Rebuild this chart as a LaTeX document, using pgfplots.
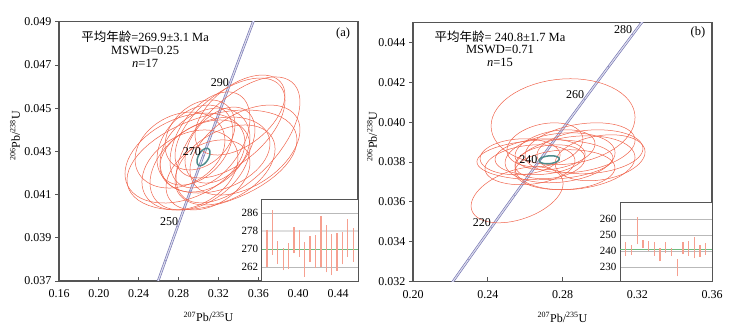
\documentclass[border=0pt]{standalone}
\usepackage{fontspec}
\setmainfont{Liberation Serif}
\newfontfamily\cjk{Noto Sans CJK SC}
\usepackage{pgfplots}
\usepackage{pgfplotstable}
\pgfplotsset{compat=1.18}
\definecolor{ellred}{HTML}{F0644C}
\definecolor{meanteal}{HTML}{4E8C8C}
\definecolor{conc}{HTML}{7070B0}
\definecolor{frame}{HTML}{555555}
\definecolor{barred}{HTML}{F6A090}
\definecolor{meangreen}{HTML}{6DBB7E}

% concordia curve, ratios at 190, 200, ..., 320 Ma
\pgfplotstableread{
x y
0.205774 0.0299124
0.217708 0.0315110
0.229759 0.0331126
0.241930 0.0347164
0.254222 0.0363229
0.266635 0.0379316
0.279171 0.0395430
0.291832 0.0411568
0.304617 0.0427731
0.317529 0.0443920
0.330569 0.0460134
0.343738 0.0476372
0.357037 0.0492636
0.370468 0.0508924
}\concordia

% inset ages, panel a
\pgfplotstableread{
i lo hi
1 261.8 278.3
2 267.5 287.2
3 263.4 273.4
4 260.6 270.3
5 261.1 272.6
6 268.0 280.0
7 266.5 278.3
8 257.5 272.9
9 264.2 275.7
10 261.4 276.2
11 261.8 284.6
12 259.5 280.8
13 258.3 276.8
14 260.3 277.2
15 263.1 277.5
16 266.5 283.4
17 264.2 279.5
}\agesA

% inset ages, panel b
\pgfplotstableread{
i lo hi
1 236.9 245.4
2 237.5 243.5
3 244.4 261.7
4 241.6 247.1
5 240.1 246.1
6 236.9 245.4
7 233.6 241.8
8 239.0 245.4
9 236.9 242.2
10 224.0 235.1
11 238.1 245.4
12 236.9 246.1
13 235.4 248.6
14 236.4 243.9
15 237.5 245.0
}\agesB

% error ellipse: centre x, centre y, sigma x, sigma y, correlation
\newcommand\uell[5]{\addplot[ellred, line width=0.5pt, domain=0:360, samples=61]
  ({#1+#3*cos(x)}, {#2+#4*(#5*cos(x)+sqrt(1-#5*#5)*sin(x))});}
\newcommand\mell[5]{\addplot[meanteal, line width=1.5pt, domain=0:360, samples=61]
  ({#1+#3*cos(x)}, {#2+#4*(#5*cos(x)+sqrt(1-#5*#5)*sin(x))});}

\pgfplotsset{
  main/.style={
    scale only axis, anchor=south west,
    axis line style={frame, line width=1.1pt},
    tick style={frame, line width=0.8pt},
    major tick length=4pt, tick pos=left,
    xtick align=inside, ytick align=outside,
    scaled ticks=false,
    tick label style={font=\fontsize{12}{14}\selectfont},
    /pgf/number format/assume math mode=true,
    xticklabel style={yshift=-5pt, /pgf/number format/fixed, /pgf/number format/precision=2, /pgf/number format/fixed zerofill},
    yticklabel style={/pgf/number format/fixed, /pgf/number format/precision=3, /pgf/number format/fixed zerofill},
    label style={font=\fontsize{12}{14}\selectfont},
    xlabel={\textsuperscript{207}Pb/\textsuperscript{235}U},
    ylabel={\textsuperscript{206}Pb/\textsuperscript{238}U},
    xlabel style={at={(axis description cs:0.5,-0.138)}, anchor=center},
  },
  inset/.style={
    scale only axis, anchor=south west,
    axis background/.style={fill=white},
    axis line style={frame, line width=0.9pt},
    xtick=\empty, major tick length=0pt,
    ymajorgrids, grid style={gray!55, line width=0.5pt},
    tick label style={font=\fontsize{11}{13}\selectfont},
    /pgf/number format/assume math mode=true,
    xmin=0,
  },
  concline/.style={conc, line width=0.6pt, double=conc!25, double distance=1.2pt, smooth},
  agebars/.style={draw=none, mark=none,
    error bars/.cd, y dir=plus, y explicit, error mark=none,
    error bar style={draw=barred, line width=1.3pt}},
}

\begin{document}
\begin{tikzpicture}
\useasboundingbox (0,0) rectangle (731pt,326pt);

% ---------- panel (a)
\begin{axis}[main, at={(59pt,45pt)}, width=299pt, height=259.3pt,
  xmin=0.16, xmax=0.46, ymin=0.037, ymax=0.049,
  xtick={0.16,0.20,0.24,0.28,0.32,0.36,0.40,0.44},
  ytick={0.037,0.039,0.041,0.043,0.045,0.047,0.049},
  ylabel style={at={(axis description cs:-0.147,0.56)}, anchor=center}]
\addplot[concline] table {\concordia};
\addplot[only marks, mark=*, mark size=0.6pt, conc!70, fill=white] table {\concordia};
\uell{0.3396}{0.04353}{0.0622}{0.002916}{0.6}
\uell{0.3135}{0.04260}{0.0853}{0.002314}{0.4}
\uell{0.2864}{0.04269}{0.0602}{0.002083}{0.35}
\uell{0.3316}{0.04408}{0.0552}{0.002314}{0.55}
\uell{0.3065}{0.04306}{0.0451}{0.001944}{0.3}
\uell{0.3165}{0.04283}{0.0552}{0.001759}{0.3}
\uell{0.3015}{0.04237}{0.0502}{0.002083}{0.4}
\uell{0.3466}{0.04306}{0.0552}{0.002083}{0.45}
\uell{0.2964}{0.04329}{0.0381}{0.001851}{0.35}
\uell{0.3115}{0.04353}{0.0401}{0.002221}{0.45}
\uell{0.2914}{0.04214}{0.0482}{0.001851}{0.3}
\uell{0.3266}{0.04237}{0.0502}{0.001851}{0.4}
\uell{0.3015}{0.04376}{0.0351}{0.001620}{0.3}
\uell{0.3215}{0.04329}{0.0351}{0.001759}{0.4}
\uell{0.2814}{0.04306}{0.0451}{0.001759}{0.25}
\uell{0.3095}{0.04191}{0.0421}{0.001620}{0.35}
\uell{0.3416}{0.04468}{0.0451}{0.001851}{0.5}
\mell{0.3050}{0.04274}{0.0065}{0.00040}{0.5}
\node[font=\fontsize{12}{14}\selectfont] at (axis cs:0.3215,0.04616) {290};
\node[font=\fontsize{12}{14}\selectfont] at (axis cs:0.2934,0.04297) {270};
\node[font=\fontsize{12}{14}\selectfont] at (axis cs:0.2704,0.03973) {250};
\node[font=\fontsize{12.5}{14}\selectfont] at (axis description cs:0.288,0.941) {{\cjk 平均年龄}=269.9±3.1 Ma};
\node[font=\fontsize{12.5}{14}\selectfont] at (axis description cs:0.288,0.891) {MSWD=0.25};
\node[font=\fontsize{12.5}{14}\selectfont] at (axis description cs:0.288,0.841) {\textit{n}=17};
\node[font=\fontsize{12.5}{14}\selectfont] at (axis description cs:0.95,0.956) {(a)};
\end{axis}

\begin{axis}[inset, at={(261.7pt,45pt)}, width=96.3pt, height=82pt,
  xmax=17.9, ymin=255.7, ymax=292.3, ytick={262,270,278,286}]
\addplot[gray!25, line width=2.4pt] coordinates {(0,278) (17.9,278)};
\addplot[meangreen, line width=0.9pt] coordinates {(0,269.9) (17.9,269.9)};
\addplot[agebars] table[x=i, y=lo, y error expr=\thisrow{hi}-\thisrow{lo}] {\agesA};
\end{axis}

% ---------- panel (b)
\begin{axis}[main, at={(413pt,44.5pt)}, width=299pt, height=259pt,
  xmin=0.20, xmax=0.36, ymin=0.032, ymax=0.045,
  xtick={0.20,0.24,0.28,0.32,0.36},
  ytick={0.032,0.034,0.036,0.038,0.040,0.042,0.044},
  ylabel style={at={(axis description cs:-0.137,0.56)}, anchor=center}]
\addplot[concline] table {\concordia};
\addplot[only marks, mark=*, mark size=0.6pt, conc!70, fill=white] table {\concordia};
\uell{0.2803}{0.04002}{0.03853}{0.002158}{0.1}
\uell{0.2557}{0.03635}{0.02461}{0.001405}{0.4}
\uell{0.2706}{0.03811}{0.03639}{0.001004}{0.1}
\uell{0.2947}{0.03851}{0.02836}{0.001104}{0.15}
\uell{0.2787}{0.03821}{0.02943}{0.001255}{0.2}
\uell{0.2867}{0.03796}{0.03211}{0.001355}{0.2}
\uell{0.2680}{0.03826}{0.02408}{0.000903}{0.15}
\uell{0.2760}{0.03861}{0.02140}{0.001004}{0.3}
\uell{0.2626}{0.03786}{0.02408}{0.001004}{0.2}
\uell{0.2894}{0.03871}{0.02943}{0.001255}{0.3}
\uell{0.2733}{0.03801}{0.01873}{0.000853}{0.2}
\uell{0.3001}{0.03821}{0.02408}{0.001154}{0.25}
\uell{0.2573}{0.03826}{0.02140}{0.000903}{0.1}
\uell{0.2813}{0.03761}{0.02676}{0.001004}{0.1}
\uell{0.2706}{0.03886}{0.02033}{0.001104}{0.25}
\mell{0.2729}{0.03811}{0.00535}{0.00020}{0.2}
\node[font=\fontsize{12}{14}\selectfont] at (axis cs:0.3124,0.04463) {280};
\node[font=\fontsize{12}{14}\selectfont] at (axis cs:0.2867,0.04137) {260};
\node[font=\fontsize{12}{14}\selectfont] at (axis cs:0.2617,0.03814) {240};
\node[font=\fontsize{12}{14}\selectfont] at (axis cs:0.2368,0.03496) {220};
\node[font=\fontsize{12.5}{14}\selectfont] at (axis description cs:0.291,0.945) {{\cjk 平均年龄}= 240.8±1.7 Ma};
\node[font=\fontsize{12.5}{14}\selectfont] at (axis description cs:0.291,0.895) {MSWD=0.71};
\node[font=\fontsize{12.5}{14}\selectfont] at (axis description cs:0.291,0.845) {\textit{n}=15};
\node[font=\fontsize{12.5}{14}\selectfont] at (axis description cs:0.953,0.96) {(b)};
\end{axis}

\begin{axis}[inset, at={(620pt,44.5pt)}, width=92pt, height=79.2pt,
  xmax=16.1, ymin=220.8, ymax=270.7, ytick={230,240,250,260}]
\addplot[meangreen, line width=1.1pt] coordinates {(0,240.8) (16.1,240.8)};
\addplot[agebars] table[x=i, y=lo, y error expr=\thisrow{hi}-\thisrow{lo}] {\agesB};
\end{axis}
\end{tikzpicture}
\end{document}
